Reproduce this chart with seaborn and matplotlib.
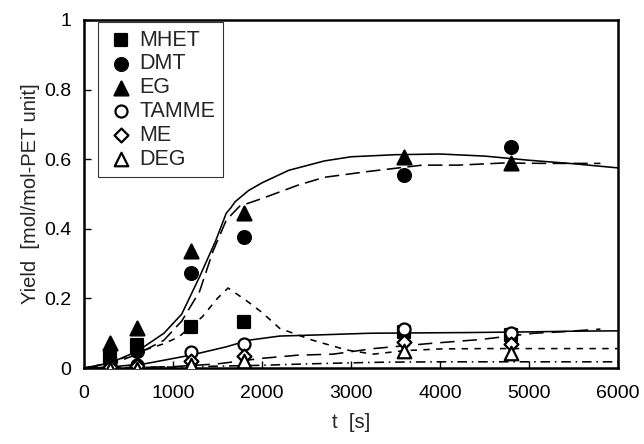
import numpy as np
import pandas as pd
import matplotlib
matplotlib.use("Agg")
import matplotlib.pyplot as plt
import seaborn as sns

t_exp = [300, 600, 1200, 1800, 3600, 4800]
mhet = [0.035, 0.065, 0.119, 0.132, 0.104, 0.095]
dmt = [0.02, 0.05, 0.272, 0.377, 0.554, 0.634]
eg = [0.073, 0.114, 0.336, 0.446, 0.607, 0.588]
tamme = [0.005, 0.01, 0.047, 0.069, 0.112, 0.101]
me = [0.003, 0.006, 0.02, 0.035, 0.075, 0.07]
deg = [-0.003, -0.002, 0.008, 0.02, 0.05, 0.042]

series_names = ["MHET", "DMT", "EG", "TAMME", "ME", "DEG"]

# ---- model curves ----
eg_mod_t = [0, 300, 600, 900, 1100, 1300, 1480, 1600, 1650, 1700, 1850, 2000, 2300,
            2700, 3000, 3500, 4000, 4500, 5000, 5500, 6000]
eg_mod_y = [0, 0.015, 0.048, 0.1, 0.155, 0.262, 0.365, 0.445, 0.46, 0.478, 0.51, 0.532,
            0.568, 0.595, 0.607, 0.613, 0.615, 0.609, 0.597, 0.587, 0.575]

dmt_mod_t = [0, 300, 600, 900, 1100, 1300, 1450, 1600, 1750, 2000, 2400, 2700, 3200,
             3800, 4200, 4700, 5200, 5800]
dmt_mod_y = [0, 0.01, 0.04, 0.08, 0.135, 0.22, 0.335, 0.425, 0.465, 0.487, 0.525, 0.548,
             0.565, 0.583, 0.583, 0.589, 0.588, 0.588]

mhet_mod_t = [0, 300, 600, 900, 1070, 1330, 1500, 1620, 1820, 2000, 2200, 2570, 2950,
              3250, 3600, 4000, 4500, 5000, 5500, 6000]
mhet_mod_y = [0, 0.015, 0.045, 0.07, 0.09, 0.147, 0.2, 0.23, 0.195, 0.16, 0.114, 0.08,
              0.052, 0.04, 0.05, 0.055, 0.056, 0.056, 0.056, 0.056]

tamme_mod_t = [0, 300, 700, 1200, 1600, 1850, 2200, 2600, 3200, 3700, 4300, 5000, 5500, 6000]
tamme_mod_y = [0, 0.003, 0.013, 0.037, 0.061, 0.08, 0.092, 0.095, 0.1, 0.101, 0.102,
               0.104, 0.106, 0.107]

me_mod_t = [0, 600, 1000, 1500, 2000, 2400, 2800, 3250, 3900, 4450, 5050, 5350, 5800]
me_mod_y = [0, 0.002, 0.004, 0.012, 0.028, 0.037, 0.04, 0.056, 0.071, 0.082, 0.1, 0.104,
            0.112]

deg_mod_t = [0, 1000, 2000, 2500, 3000, 3400, 4000, 5000, 6000]
deg_mod_y = [0, 0.003, 0.008, 0.012, 0.015, 0.017, 0.018, 0.018, 0.018]

x_ticks = [0, 1000, 2000, 3000, 4000, 5000, 6000]
y_ticks = [0, 0.2, 0.4, 0.6, 0.8, 1.0]
y_tick_labels = ["0", "0.2", "0.4", "0.6", "0.8", "1"]

# ---- styling ----
sns.set_style("ticks")
plt.rcParams["font.family"] = ["Liberation Sans", "DejaVu Sans"]

fig = plt.figure(figsize=(6.44, 4.44), dpi=100)
ax = fig.add_axes([0.130, 0.171, 0.830, 0.784])

lw = 1.15
curves = [
    (eg_mod_t, eg_mod_y, "-"),
    (dmt_mod_t, dmt_mod_y, (0, (9, 4))),
    (mhet_mod_t, mhet_mod_y, (0, (4, 4))),
    (tamme_mod_t, tamme_mod_y, "-"),
    (me_mod_t, me_mod_y, (0, (9, 5))),
    (deg_mod_t, deg_mod_y, (0, (6, 3, 1, 3))),
]
for tt, yy, ls in curves:
    sns.lineplot(x=tt, y=yy, ax=ax, color="black", lw=lw, linestyle=ls,
                 legend=False, sort=False)

exp_vals = [mhet, dmt, eg, tamme, me, deg]
markers = ["s", "o", "^", "o", "D", "^"]
sizes = [80, 85, 100, 75, 50, 95]
filled = [True, True, True, False, False, False]
for name, vals, m, s, f in zip(series_names, exp_vals, markers, sizes, filled):
    sns.scatterplot(x=t_exp, y=vals, ax=ax, marker=m, s=s,
                    facecolor="black" if f else "white",
                    edgecolor="black", linewidth=1.6, label=name, zorder=5)

ax.set_xlim(0, 6000)
ax.set_ylim(0, 1)
ax.set_xticks(x_ticks)
ax.set_xticklabels([str(v) for v in x_ticks])
ax.set_yticks(y_ticks)
ax.set_yticklabels(y_tick_labels)
ax.tick_params(axis="both", direction="in", length=5, width=1, labelsize=14,
               colors="black")
ax.tick_params(axis="x", pad=12)
ax.tick_params(axis="y", pad=9)
for sp in ax.spines.values():
    sp.set_visible(True)
    sp.set_linewidth(1.8)
    sp.set_color("black")

ax.set_xlabel("t  [s]", fontsize=14.5, labelpad=8)
ax.set_ylabel("Yield  [mol/mol-PET unit]", fontsize=14.5, labelpad=3)

leg = ax.legend(loc="upper left", bbox_to_anchor=(0.022, 1.0), fontsize=15.5,
                frameon=True, fancybox=False, edgecolor="black",
                handletextpad=0.1, labelspacing=0.13, borderpad=0.35,
                handlelength=1.5, borderaxespad=0.1)
leg.get_frame().set_linewidth(0.8)

fig.savefig("out.png", dpi=100)
